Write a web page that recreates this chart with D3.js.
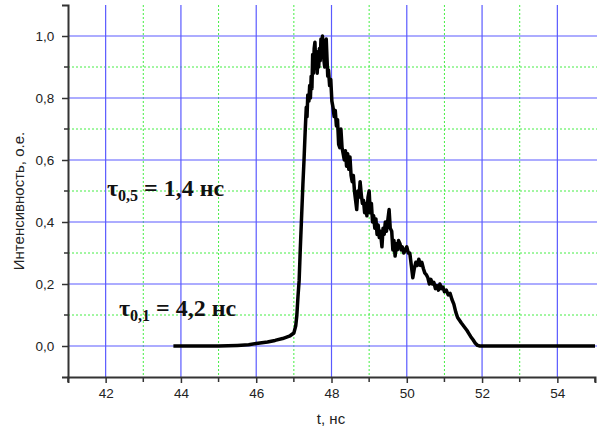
<!DOCTYPE html>
<html>
<head>
<meta charset="utf-8">
<script src="https://cdn.jsdelivr.net/npm/d3@7"></script>
<style>
  body { margin: 0; background: #fff; }
  svg { display: block; }
</style>
</head>
<body>
<svg id="chart" width="597" height="430"></svg>
<script>
// pulse profile [t, intensity]
let pulse = [
    [43.8, 0], [44.5, 0], [45.0, 0], [45.5, 0.002], [45.8, 0.004], [46.0, 0.008], [46.3, 0.013], [46.5, 0.018],
    [46.7, 0.024], [46.9, 0.033], [47.0, 0.042], [47.05, 0.065], [47.08, 0.10], [47.11, 0.16], [47.14, 0.21],
    [47.17, 0.31], [47.20, 0.40], [47.24, 0.52], [47.27, 0.60], [47.30, 0.69], [47.33, 0.77], [47.35, 0.74],
    [47.37, 0.81], [47.40, 0.79], [47.42, 0.84], [47.44, 0.80], [47.46, 0.87], [47.48, 0.83], [47.50, 0.94],
    [47.52, 0.88], [47.54, 0.96], [47.56, 0.98], [47.58, 0.91], [47.60, 0.95], [47.62, 0.88], [47.64, 0.93],
    [47.66, 0.90], [47.68, 0.96], [47.70, 0.92], [47.72, 0.99], [47.74, 0.94], [47.76, 1.0], [47.78, 0.96],
    [47.80, 0.92], [47.82, 0.90], [47.84, 0.97], [47.86, 0.99], [47.88, 0.93], [47.90, 0.87], [47.92, 0.89],
    [47.95, 0.84], [47.98, 0.86], [48.01, 0.79], [48.04, 0.77], [48.07, 0.74], [48.10, 0.76], [48.13, 0.71],
    [48.16, 0.73], [48.19, 0.65], [48.22, 0.64], [48.25, 0.70], [48.28, 0.64], [48.31, 0.62], [48.34, 0.60],
    [48.37, 0.63], [48.40, 0.58], [48.43, 0.62], [48.46, 0.57], [48.49, 0.61], [48.52, 0.55], [48.55, 0.53],
    [48.58, 0.55], [48.61, 0.50], [48.64, 0.47], [48.67, 0.44], [48.70, 0.50], [48.73, 0.48], [48.76, 0.53],
    [48.79, 0.49], [48.82, 0.46], [48.85, 0.47], [48.88, 0.43], [48.91, 0.46], [48.94, 0.42], [48.97, 0.48],
    [49.00, 0.50], [49.03, 0.43], [49.06, 0.46], [49.09, 0.40], [49.12, 0.42], [49.15, 0.38], [49.18, 0.41],
    [49.21, 0.36], [49.24, 0.39], [49.27, 0.35], [49.30, 0.37], [49.34, 0.32], [49.37, 0.38], [49.40, 0.36],
    [49.43, 0.40], [49.46, 0.37], [49.50, 0.41], [49.53, 0.44], [49.56, 0.38], [49.60, 0.37], [49.63, 0.31],
    [49.66, 0.34], [49.69, 0.29], [49.72, 0.33], [49.75, 0.31], [49.78, 0.34], [49.82, 0.33], [49.85, 0.31],
    [49.88, 0.32], [49.92, 0.30], [49.96, 0.31], [50.00, 0.32], [50.04, 0.30], [50.08, 0.30], [50.12, 0.26],
    [50.16, 0.22], [50.20, 0.25], [50.24, 0.27], [50.28, 0.26], [50.32, 0.28], [50.36, 0.26], [50.40, 0.27],
    [50.44, 0.25], [50.48, 0.235], [50.52, 0.23], [50.56, 0.22], [50.60, 0.20], [50.64, 0.215], [50.68, 0.20],
    [50.72, 0.205], [50.76, 0.185], [50.80, 0.195], [50.84, 0.18], [50.88, 0.20], [50.92, 0.185], [50.96, 0.19],
    [51.00, 0.175], [51.05, 0.18], [51.10, 0.165], [51.15, 0.17], [51.20, 0.15], [51.25, 0.135], [51.30, 0.11],
    [51.35, 0.092], [51.40, 0.083], [51.45, 0.074], [51.50, 0.066], [51.55, 0.058], [51.60, 0.05], [51.65, 0.04],
    [51.70, 0.03], [51.76, 0.02], [51.82, 0.009], [51.88, 0.002], [51.94, 0], [52.5, 0], [53.5, 0], [55.0, 0]
];

let xMajor = [42, 44, 46, 48, 50, 52, 54];
let xMinor = [41, 43, 45, 47, 49, 51, 53, 55];
let yMajor = [0, 0.2, 0.4, 0.6, 0.8, 1.0];
let yMinor = [0.1, 0.3, 0.5, 0.7, 0.9];

let svg = d3.select("#chart");
let plotL = 68, plotR = 595, plotT = 5, plotB = 377;

let x = d3.scaleLinear().domain([41, 55]).range([plotL, plotR]);
let y = d3.scaleLinear().domain([-0.1, 1.1]).range([plotB, plotT]);
let fmt = d => d3.format(".1f")(d).replace(".", ",");

svg.append("rect").attr("width", 597).attr("height", 430).attr("fill", "#fff");

// grid
let grid = svg.append("g");
grid.selectAll(".vmin").data(xMinor.filter(d => d > 41 && d < 55)).enter().append("line")
    .attr("x1", d => x(d)).attr("x2", d => x(d)).attr("y1", plotT).attr("y2", plotB)
    .attr("stroke", "#44ee44").attr("stroke-dasharray", "2,2").attr("stroke-width", 1);
grid.selectAll(".hmin").data(yMinor).enter().append("line")
    .attr("x1", plotL).attr("x2", 597).attr("y1", d => y(d)).attr("y2", d => y(d))
    .attr("stroke", "#44ee44").attr("stroke-dasharray", "2,2").attr("stroke-width", 1);
grid.selectAll(".vmaj").data(xMajor).enter().append("line")
    .attr("x1", d => x(d)).attr("x2", d => x(d)).attr("y1", plotT).attr("y2", plotB)
    .attr("stroke", "#5a5aff").attr("stroke-width", 1.2);
grid.selectAll(".hmaj").data(yMajor).enter().append("line")
    .attr("x1", plotL).attr("x2", 597).attr("y1", d => y(d)).attr("y2", d => y(d))
    .attr("stroke", "#5a5aff").attr("stroke-width", 1.2);

// axes
let xAxis = svg.append("g").attr("transform", "translate(0," + plotB + ")");
xAxis.call(d3.axisBottom(x).tickValues(xMajor).tickSize(6).tickFormat(d3.format("d")));
xAxis.append("g").selectAll("line").data(xMinor).enter().append("line")
    .attr("x1", d => x(d)).attr("x2", d => x(d)).attr("y1", 0).attr("y2", 5)
    .attr("stroke", "#333").attr("stroke-width", 1.5);

let yAxis = svg.append("g").attr("transform", "translate(" + plotL + ",0)");
yAxis.call(d3.axisLeft(y).tickValues(yMajor).tickSize(6).tickFormat(fmt));
yAxis.append("g").selectAll("line").data(yMinor).enter().append("line")
    .attr("x1", -4).attr("x2", 0).attr("y1", d => y(d)).attr("y2", d => y(d))
    .attr("stroke", "#333").attr("stroke-width", 1.5);

svg.selectAll(".domain").attr("stroke", "#333").attr("stroke-width", 2);
svg.selectAll(".tick line").attr("stroke", "#333").attr("stroke-width", 1.5);
svg.selectAll(".tick text").attr("font-family", "Arial, 'Liberation Sans', sans-serif")
    .attr("font-size", 13.5).attr("fill", "#222");
xAxis.selectAll(".tick text").attr("dy", "0.9em");
yAxis.selectAll(".tick text").attr("dx", "-0.35em");

// axis titles
svg.append("text").attr("x", 331).attr("y", 424).attr("text-anchor", "middle")
    .attr("font-family", "Arial, 'Liberation Sans', sans-serif").attr("font-size", 15).attr("fill", "#222")
    .text("t, нс");
svg.append("text").attr("transform", "translate(24,201) rotate(-90)").attr("text-anchor", "middle")
    .attr("font-family", "Arial, 'Liberation Sans', sans-serif").attr("font-size", 15).attr("fill", "#222")
    .text("Интенсивность, о.е.");

// curve
svg.append("path").datum(pulse)
    .attr("fill", "none").attr("stroke", "#000").attr("stroke-width", 3.5).attr("stroke-linejoin", "round")
    .attr("d", d3.line().x(d => x(d[0])).y(d => y(d[1])));

// annotations
let notes = [
    {sub: "0,5", rest: " = 1,4 нс", px: 107, py: 196},
    {sub: "0,1", rest: " = 4,2 нс", px: 119, py: 316}
];
notes.forEach(n => {
    let t = svg.append("text").attr("x", n.px).attr("y", n.py)
        .attr("font-family", "'Times New Roman', 'Liberation Serif', serif").attr("font-weight", "bold")
        .attr("font-size", 24).attr("fill", "#111");
    t.append("tspan").text("τ");
    t.append("tspan").attr("font-size", 16).attr("dy", 5).text(n.sub);
    t.append("tspan").attr("dy", -5).text(n.rest);
});
</script>
</body>
</html>
